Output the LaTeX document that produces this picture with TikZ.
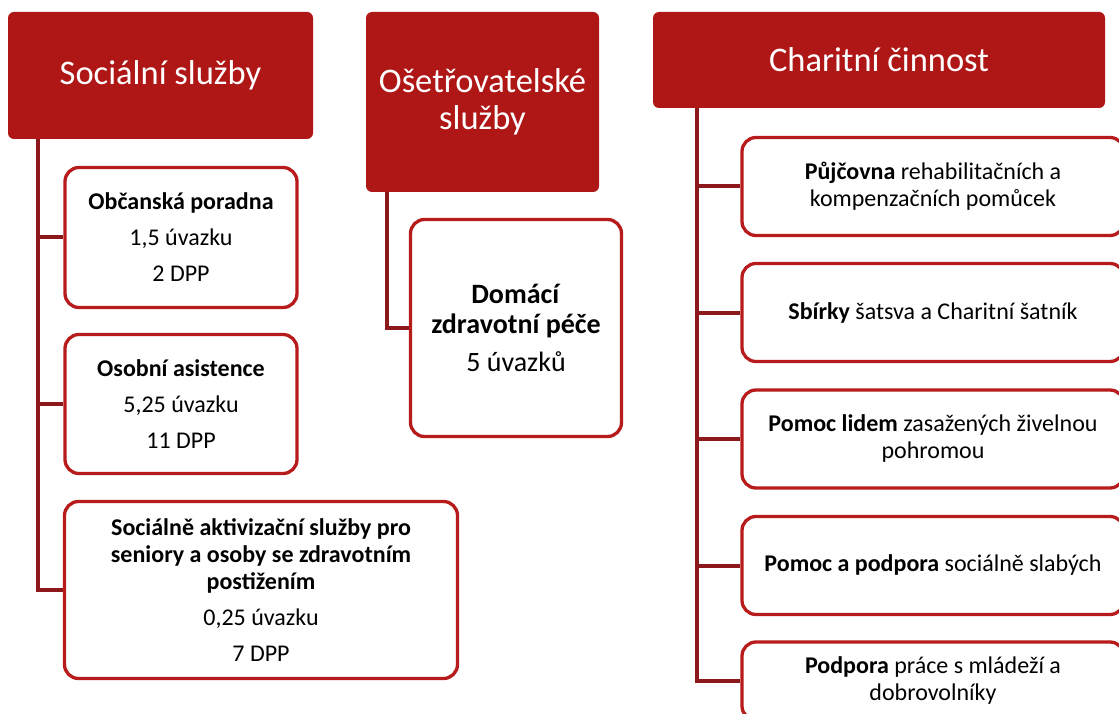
\documentclass[tikz,border=0pt]{standalone}
\usepackage{fontspec}
\setmainfont{Carlito}
\definecolor{headred}{RGB}{175,22,22}
\definecolor{boxred}{RGB}{183,27,28}
\definecolor{linered}{RGB}{140,24,28}
\tikzset{
  head/.style={rectangle, rounded corners=6pt, fill=headred, text=white, align=center, inner sep=0pt, font=\fontsize{34.5}{37}\selectfont},
  item/.style={rectangle, rounded corners=14pt, draw=boxred, line width=3.3pt, fill=white, align=center, inner sep=0pt, font=\fontsize{24}{27}\selectfont},
  conn/.style={draw=linered, line width=4pt}
}
\begin{document}
\begin{tikzpicture}[x=1pt,y=-1pt]
        \useasboundingbox (0,0) rectangle (1119,714);
        \clip (0,0) rectangle (1119,714);

        \node [head, minimum width=305pt, minimum height=127pt] (soc) at (160.5,75.5) {Sociální služby};
        \node [head, minimum width=233pt, minimum height=180pt] (ose) at (482.5,102) {Ošetřovatelské\\služby};
        \node [head, minimum width=452pt, minimum height=96pt] (cha) at (879,60) {Charitní činnost};

        \coordinate (socT) at ([xshift=30pt]soc.south west);
        \coordinate (oseT) at ([xshift=21pt]ose.south west);
        \coordinate (chaT) at ([xshift=44pt]cha.south west);

        \node [item, minimum width=232pt, minimum height=140pt] (obc) at (181,237.5) {\textbf{Občanská poradna}\\[9pt]1,5 úvazku\\[9pt]2 DPP};
        \node [item, minimum width=232pt, minimum height=139pt] (osa) at (181,404) {\textbf{Osobní asistence}\\[9pt]5,25 úvazku\\[9pt]11 DPP};
        \node [item, minimum width=393pt, minimum height=177pt] (sas) at (261,590) {\textbf{Sociálně aktivizační služby pro}\\\textbf{seniory a osoby se zdravotním}\\\textbf{postižením}\\[9pt]0,25 úvazku\\[9pt]7 DPP};

        \node [item, minimum width=211pt, minimum height=217pt, font=\fontsize{28}{30}\selectfont] (dzp) at (516,328) {\textbf{Domácí}\\\textbf{zdravotní péče}\\[8pt]5 úvazků};

        \node [item, minimum width=382pt, minimum height=98pt] (puj) at (933,186.5) {\textbf{Půjčovna} rehabilitačních a\\kompenzačních pomůcek};
        \node [item, minimum width=382pt, minimum height=98pt] (sbi) at (933,312.5) {\textbf{Sbírky} šatsva a Charitní šatník};
        \node [item, minimum width=382pt, minimum height=98pt] (pol) at (933,439) {\textbf{Pomoc lidem} zasažených živelnou\\pohromou};
        \node [item, minimum width=382pt, minimum height=98pt] (pap) at (933,565.5) {\textbf{Pomoc a podpora} sociálně slabých};
        \node [item, minimum width=382pt, minimum height=78pt] (pod) at (933,681) {\textbf{Podpora} práce s mládeží a\\dobrovolníky};

        \draw [conn] (socT) |- (obc.west);
        \draw [conn] (socT) |- (osa.west);
        \draw [conn] (socT) |- (sas.west);

        \draw [conn] (oseT) |- (dzp.west);

        \draw [conn] (chaT) |- (puj.west);
        \draw [conn] (chaT) |- (sbi.west);
        \draw [conn] (chaT) |- (pol.west);
        \draw [conn] (chaT) |- (pap.west);
        \draw [conn] (chaT) |- (pod.west);
\end{tikzpicture}
\end{document}
